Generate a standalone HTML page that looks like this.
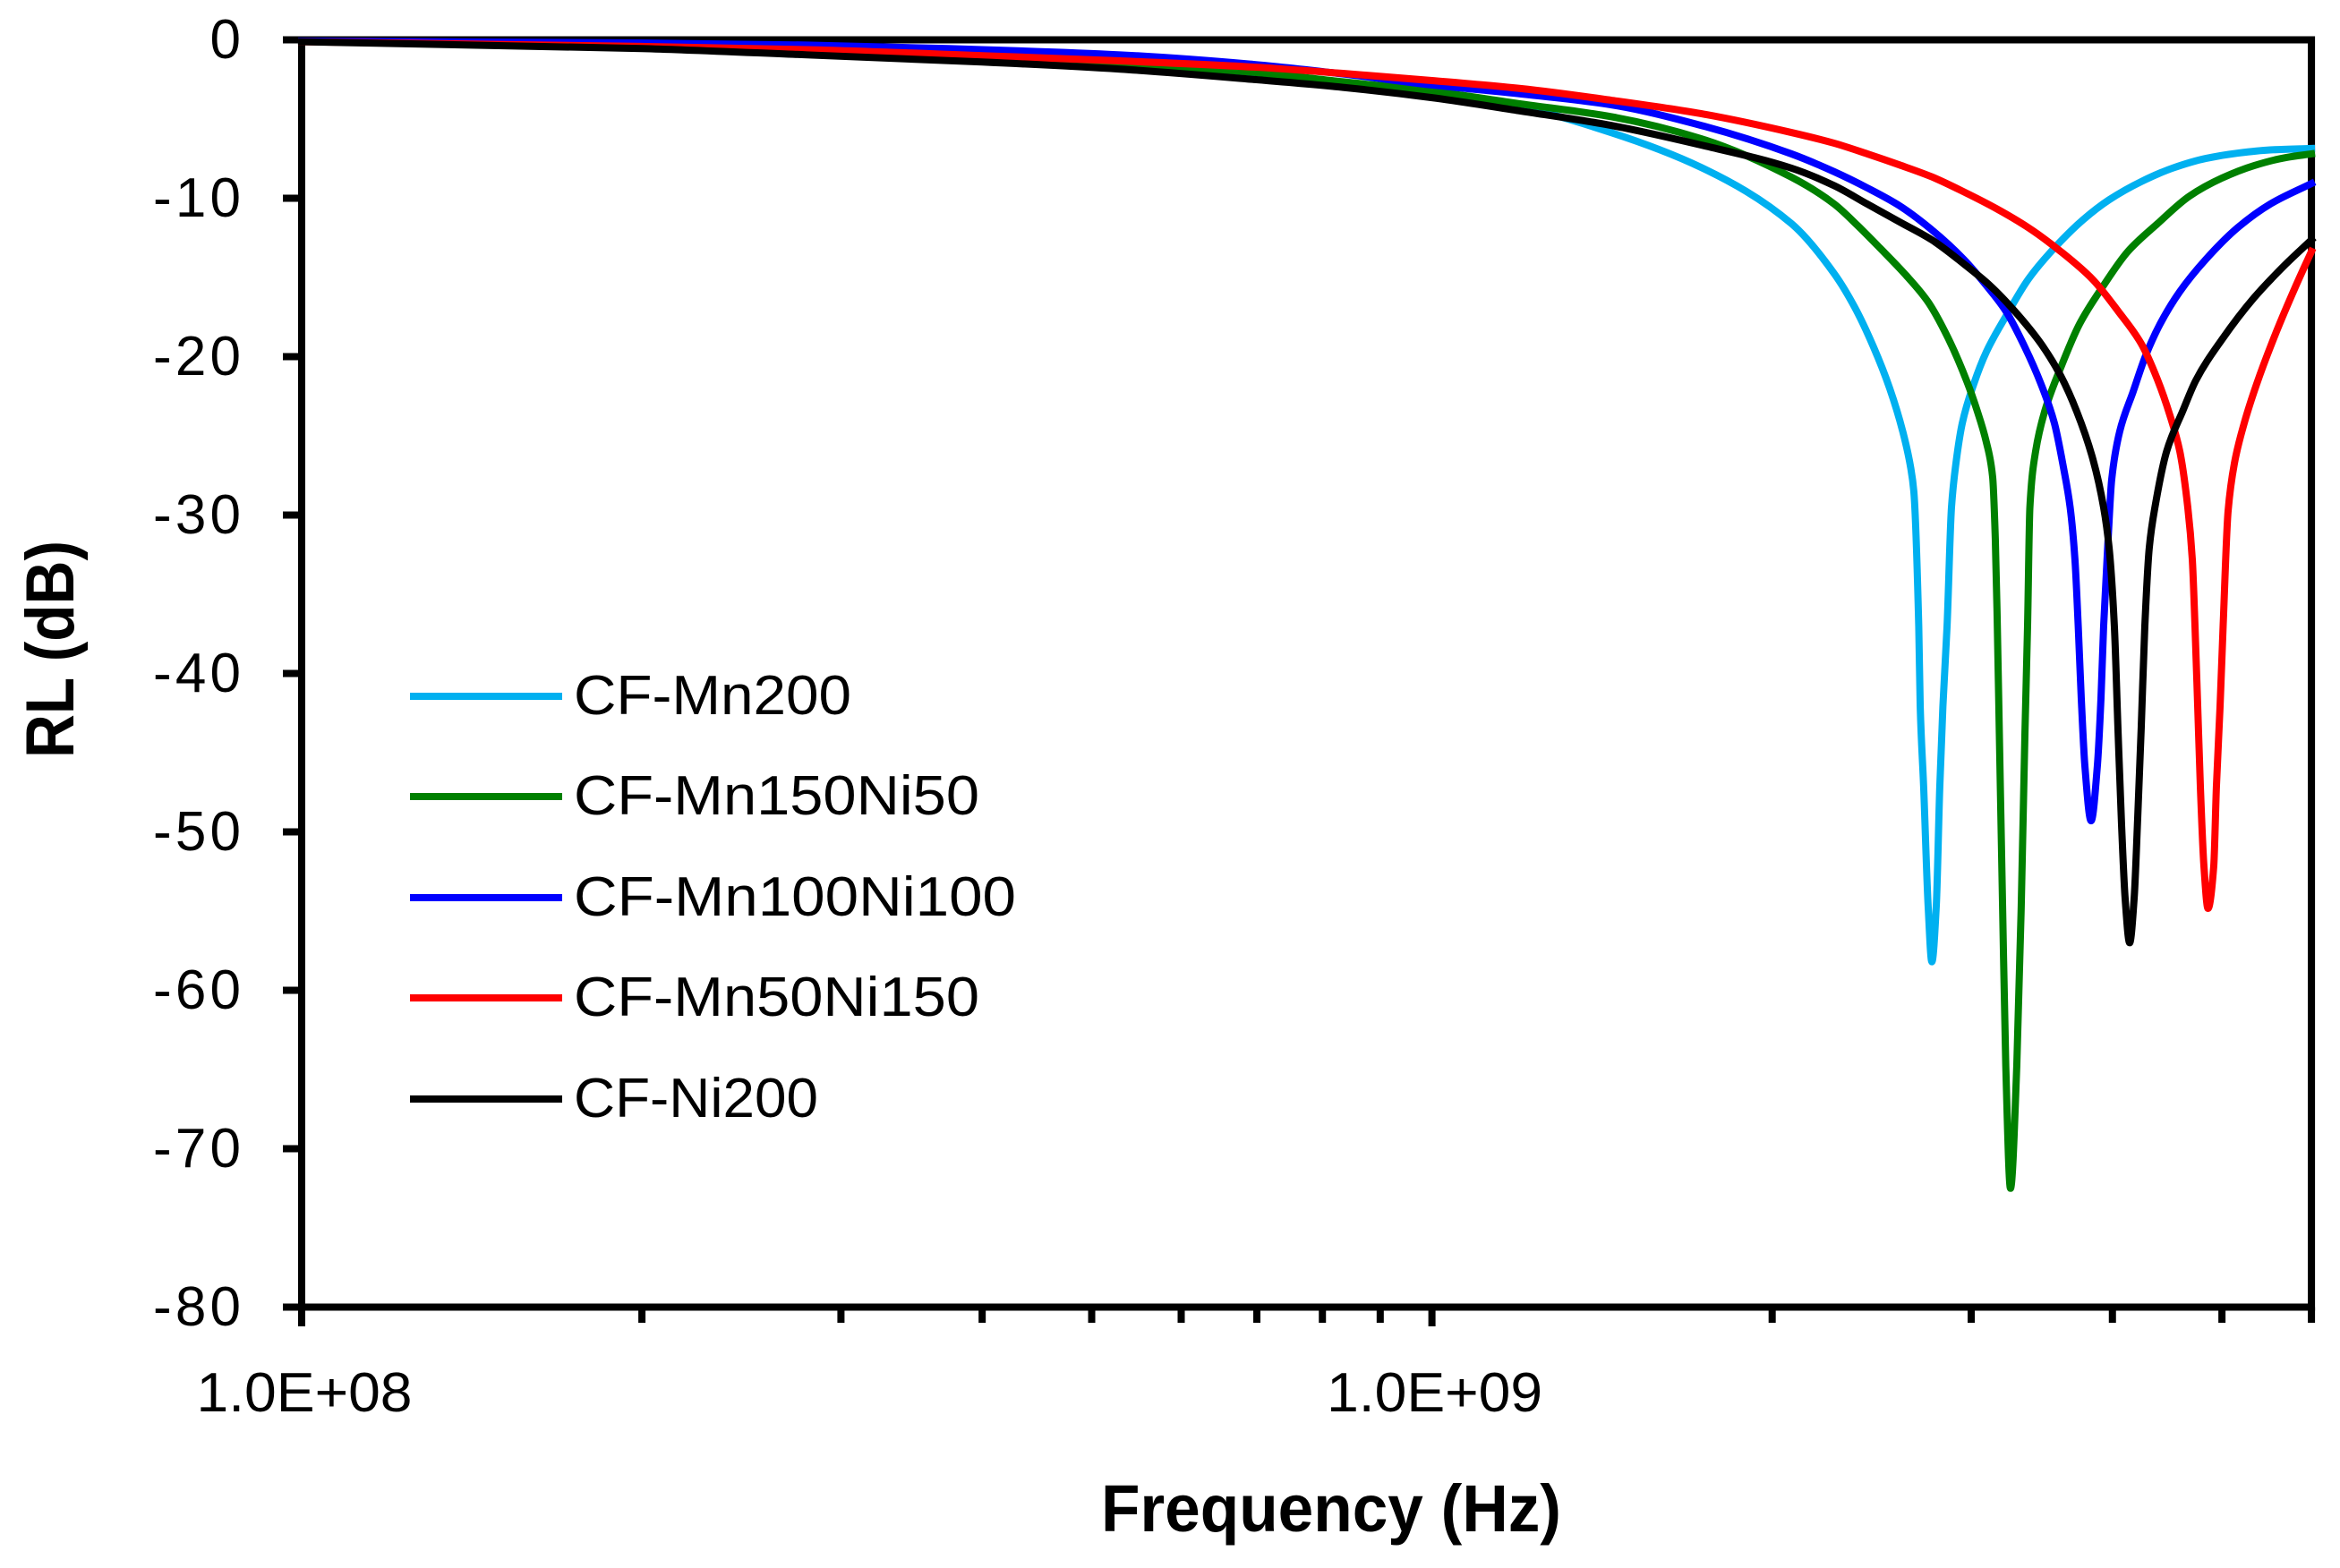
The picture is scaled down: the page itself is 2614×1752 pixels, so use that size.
<!DOCTYPE html>
<html lang="en">
<head>
<meta charset="utf-8">
<title>RL vs Frequency</title>
<style>
html,body{margin:0;padding:0;background:#fff;}
svg{display:block;}
text{font-family:"Liberation Sans",sans-serif;fill:#000;}
</style>
</head>
<body>
<svg id="chart" xmlns="http://www.w3.org/2000/svg" width="2614" height="1752" viewBox="0 0 2614 1752">
  <rect x="0" y="0" width="2614" height="1752" fill="#fff"/>
  <g id="axes"></g>
  <g id="series"></g>
  <text x="1230" y="1711" font-size="74" font-weight="700" textLength="514" lengthAdjust="spacingAndGlyphs">Frequency (Hz)</text>
  <text transform="translate(82,847) rotate(-90)" x="0" y="0" font-size="76" font-weight="700" textLength="243" lengthAdjust="spacingAndGlyphs">RL (dB)</text>
  <g>
    <g>
      <rect x="458" y="774" width="170" height="8" fill="#00B0F0"/>
      <text x="641" y="798" font-size="62" textLength="310" lengthAdjust="spacingAndGlyphs">CF-Mn200</text>
    </g>
    <g>
      <rect x="458" y="886" width="170" height="8" fill="#008000"/>
      <text x="641" y="910" font-size="62" textLength="453" lengthAdjust="spacingAndGlyphs">CF-Mn150Ni50</text>
    </g>
    <g>
      <rect x="458" y="999" width="170" height="8" fill="#0000FF"/>
      <text x="641" y="1023" font-size="62" textLength="494" lengthAdjust="spacingAndGlyphs">CF-Mn100Ni100</text>
    </g>
    <g>
      <rect x="458" y="1111" width="170" height="8" fill="#FF0000"/>
      <text x="641" y="1135" font-size="62" textLength="453" lengthAdjust="spacingAndGlyphs">CF-Mn50Ni150</text>
    </g>
    <g>
      <rect x="458" y="1224" width="170" height="8" fill="#000000"/>
      <text x="641" y="1248" font-size="62" textLength="273" lengthAdjust="spacingAndGlyphs">CF-Ni200</text>
    </g>
  </g>
</svg>
<script>
// Axis ticks
var yTickValues = [0, -10, -20, -30, -40, -50, -60, -70, -80];
var xMajorTicks = [1e8, 1e9];
var xMajorLabels = ["1.0E+08", "1.0E+09"];
var xMinorTicks = [2e8, 3e8, 4e8, 5e8, 6e8, 7e8, 8e8, 9e8, 2e9, 3e9, 4e9, 5e9, 6e9];

// Frequency in GHz, RL in dB
var mn200Freq = [0.1,0.2,0.28,0.4,0.53,0.695,0.834,1.0,1.2,1.44,1.73,2.08,2.27,2.367,2.459,2.541,2.609,2.652,2.669,2.696,2.704,2.723,2.748,2.769,2.794,2.814,2.832,2.856,2.882,2.908,2.946,3.016,3.094,3.221,3.371,3.554,3.768,3.973,4.242,4.53,4.837,5.166,5.516,6.0];
var mn200RL = [-0.1,-0.42,-0.68,-1.1,-1.55,-2.1,-2.68,-3.42,-4.27,-5.85,-8.05,-11.6,-14.77,-16.9,-19.4,-22.0,-24.7,-27.0,-28.5,-37.03,-42.06,-47.15,-54.66,-58.2,-54.66,-47.15,-42.06,-37.03,-29.5,-26.75,-24.2,-21.72,-19.7,-17.43,-15.1,-13.14,-11.36,-10.1,-8.95,-8.08,-7.49,-7.15,-6.95,-6.86];

var mn150ni50Freq = [0.1,0.2,0.28,0.4,0.53,0.695,0.834,1.0,1.2,1.44,1.73,2.08,2.27,2.38,2.491,2.626,2.748,2.861,2.975,3.033,3.094,3.134,3.151,3.163,3.177,3.198,3.219,3.25,3.292,3.322,3.347,3.365,3.381,3.421,3.484,3.6,3.741,3.919,4.128,4.384,4.681,4.999,5.338,5.696,6.0];
var mn150ni50RL = [-0.1,-0.42,-0.68,-1.1,-1.5,-2.05,-2.65,-3.25,-4.05,-4.85,-6.24,-8.67,-10.37,-11.72,-13.14,-14.85,-16.55,-18.8,-21.6,-23.3,-25.4,-27.6,-31.5,-36.5,-43.8,-54.66,-64.77,-72.5,-64.77,-54.66,-43.8,-37.03,-29.52,-25.96,-23.47,-20.7,-17.94,-15.62,-13.36,-11.61,-9.86,-8.73,-7.94,-7.43,-7.2];

var mn100ni100Freq = [0.1,0.2,0.28,0.4,0.53,0.695,0.834,1.0,1.2,1.44,1.73,2.08,2.27,2.428,2.593,2.769,2.956,3.094,3.221,3.347,3.458,3.554,3.62,3.67,3.706,3.731,3.754,3.782,3.83,3.879,3.908,3.929,3.965,3.994,4.06,4.173,4.281,4.408,4.588,4.837,5.166,5.516,6.0];
var mn100ni100RL = [-0.08,-0.2,-0.33,-0.62,-0.95,-1.55,-2.15,-2.85,-3.42,-4.1,-5.4,-7.2,-8.33,-9.35,-10.48,-12.0,-13.87,-15.51,-17.15,-19.41,-21.72,-24.2,-26.98,-29.52,-32.8,-37.03,-41.55,-45.85,-49.3,-45.85,-41.55,-37.03,-31.55,-27.77,-24.72,-22.2,-19.92,-17.94,-15.9,-13.87,-11.84,-10.37,-9.07];

var mn50ni150Freq = [0.1,0.2,0.28,0.4,0.53,0.695,0.834,1.0,1.2,1.44,1.73,2.08,2.27,2.428,2.593,2.769,2.956,3.157,3.371,3.6,3.844,4.049,4.242,4.384,4.497,4.588,4.664,4.707,4.733,4.759,4.785,4.82,4.86,4.917,4.944,4.981,5.012,5.063,5.128,5.232,5.367,5.587,5.805,6.0];
var mn50ni150RL = [-0.12,-0.42,-0.62,-1.0,-1.33,-1.72,-2.12,-2.57,-3.08,-3.81,-4.66,-5.85,-6.53,-7.2,-7.9,-8.65,-9.6,-10.65,-11.86,-13.36,-15.14,-17.15,-19.18,-21.44,-23.7,-25.96,-29.52,-32.8,-37.03,-42.06,-47.15,-52.18,-54.83,-52.18,-47.15,-42.06,-37.03,-29.75,-26.75,-24.2,-21.72,-18.42,-15.62,-13.36];

var ni200Freq = [0.1,0.2,0.28,0.4,0.53,0.695,0.834,1.0,1.2,1.44,1.73,2.08,2.27,2.428,2.593,2.769,2.956,3.117,3.28,3.458,3.6,3.72,3.844,3.929,3.973,4.016,4.046,4.075,4.105,4.143,4.181,4.211,4.242,4.273,4.312,4.368,4.468,4.618,4.741,4.999,5.338,5.696,6.0];
var ni200RL = [-0.12,-0.55,-0.95,-1.4,-1.85,-2.5,-3.0,-3.65,-4.5,-5.4,-6.64,-8.1,-9.21,-10.37,-11.5,-12.63,-14.15,-15.51,-17.15,-19.18,-21.21,-23.47,-26.47,-29.52,-32.06,-37.03,-43.6,-49.5,-54.2,-57.0,-54.2,-49.2,-43.4,-37.03,-32.06,-29.27,-25.96,-23.4,-21.5,-18.93,-16.28,-14.15,-12.63];

var SVG_NS = "http://www.w3.org/2000/svg";
var axesGroup = document.getElementById("axes");
var seriesGroup = document.getElementById("series");

function xScale(hz) {
  return 337 + (Math.log10(hz) - 8) * 1262.6;
}
function yScale(db) {
  return 44.5 - db * 17.7;
}

function makeLine(x1, y1, x2, y2, width) {
  var el = document.createElementNS(SVG_NS, "line");
  el.setAttribute("x1", x1);
  el.setAttribute("y1", y1);
  el.setAttribute("x2", x2);
  el.setAttribute("y2", y2);
  el.setAttribute("stroke", "#000");
  el.setAttribute("stroke-width", width);
  return el;
}

function drawAxes() {
  var left = xScale(1e8);
  var right = xScale(6e9);
  var top = yScale(0);
  var bottom = yScale(-80);

  var frame = document.createElementNS(SVG_NS, "rect");
  
  
  frame.setAttribute("x", left);
  frame.setAttribute("y", top);
  frame.setAttribute("width", right - left);
  frame.setAttribute("height", bottom - top);
  frame.setAttribute("fill", "none");
  frame.setAttribute("stroke", "#000");
  frame.setAttribute("stroke-width", 8);
  axesGroup.appendChild(frame);

  yTickValues.forEach(function (v) {
    var y = yScale(v);
    var tick = makeLine(316, y, left, y, 8);
    
    
    axesGroup.appendChild(tick);

    var label = document.createElementNS(SVG_NS, "text");
    
    
    label.setAttribute("x", 269);
    label.setAttribute("y", y + 20.5);
    label.setAttribute("font-size", 62);
    label.setAttribute("text-anchor", "end");
    if (v !== 0) {
      label.setAttribute("textLength", 98);
      label.setAttribute("lengthAdjust", "spacing");
    }
    label.textContent = String(v);
    axesGroup.appendChild(label);
  });

  xMajorTicks.forEach(function (hz, i) {
    var x = xScale(hz);
    var tick = makeLine(x, bottom, x, 1482, 8);
    
    
    axesGroup.appendChild(tick);

    var label = document.createElementNS(SVG_NS, "text");
    
    
    label.setAttribute("x", x + 3);
    label.setAttribute("y", 1577);
    label.setAttribute("font-size", 62);
    label.setAttribute("text-anchor", "middle");
    label.setAttribute("textLength", 241);
    label.setAttribute("lengthAdjust", "spacingAndGlyphs");
    label.textContent = xMajorLabels[i];
    axesGroup.appendChild(label);
  });

  xMinorTicks.forEach(function (hz) {
    var x = xScale(hz);
    var tick = makeLine(x, bottom, x, 1478, 8);
    
    
    axesGroup.appendChild(tick);
  });
}

// Monotone cubic path through the plotted readings
function drawSeries(name, color, freq, rl) {
  var xs = freq.map(function (f) { return xScale(f * 1e9); });
  var ys = rl.map(function (v) { return yScale(v); });
  var n = xs.length;
  var h = [];
  var s = [];
  var i;
  for (i = 0; i < n - 1; i++) {
    h.push(xs[i + 1] - xs[i]);
    s.push((ys[i + 1] - ys[i]) / h[i]);
  }
  var m = [s[0]];
  for (i = 1; i < n - 1; i++) {
    if (s[i - 1] * s[i] <= 0) {
      m.push(0);
    } else {
      var w1 = 2 * h[i] + h[i - 1];
      var w2 = h[i] + 2 * h[i - 1];
      m.push((w1 + w2) / (w1 / s[i - 1] + w2 / s[i]));
    }
  }
  m.push(s[n - 2]);
  var d = "M" + xs[0].toFixed(2) + " " + ys[0].toFixed(2);
  for (i = 0; i < n - 1; i++) {
    var c1x = xs[i] + h[i] / 3;
    var c1y = ys[i] + m[i] * h[i] / 3;
    var c2x = xs[i + 1] - h[i] / 3;
    var c2y = ys[i + 1] - m[i + 1] * h[i] / 3;
    d += "C" + c1x.toFixed(2) + " " + c1y.toFixed(2) + " " + c2x.toFixed(2) + " " + c2y.toFixed(2) + " " + xs[i + 1].toFixed(2) + " " + ys[i + 1].toFixed(2);
  }
  var path = document.createElementNS(SVG_NS, "path");
  
  
  path.setAttribute("d", d);
  path.setAttribute("fill", "none");
  path.setAttribute("stroke", color);
  path.setAttribute("stroke-width", 8);
  path.setAttribute("stroke-linejoin", "round");
  path.setAttribute("stroke-linecap", "square");
  seriesGroup.appendChild(path);
}

drawAxes();
drawSeries("series-cf-mn200", "#00B0F0", mn200Freq, mn200RL);
drawSeries("series-cf-mn150ni50", "#008000", mn150ni50Freq, mn150ni50RL);
drawSeries("series-cf-mn100ni100", "#0000FF", mn100ni100Freq, mn100ni100RL);
drawSeries("series-cf-mn50ni150", "#FF0000", mn50ni150Freq, mn50ni150RL);
drawSeries("series-cf-ni200", "#000000", ni200Freq, ni200RL);
</script>
</body>
</html>
